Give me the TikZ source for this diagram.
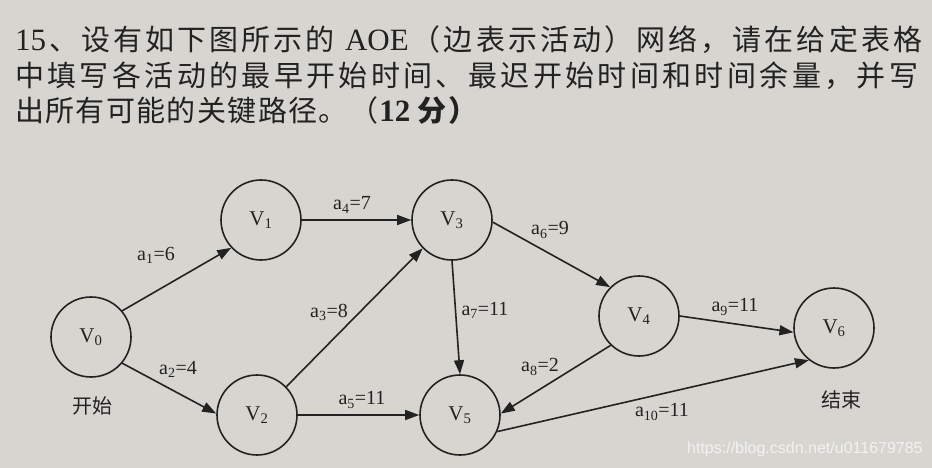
\documentclass[tikz,border=0pt]{standalone}
\usepackage{fontspec}
\setmainfont{Liberation Serif}
\newfontfamily\cjk{Noto Sans CJK SC}
\newfontfamily\wmfont{Liberation Sans}
\usetikzlibrary{arrows.meta}
\definecolor{paper}{HTML}{D7D5D0}
\definecolor{inkc}{HTML}{222222}
\definecolor{wmc}{HTML}{F2F2F2}
% spread a sequence of units evenly over a given width
\let\spreadend\relax
\def\spreadendmark{\spreadend}
\def\spreadfirst#1{#1\spreadnext}
\def\spreadnext#1{\def\spreadtmp{#1}\ifx\spreadtmp\spreadendmark\else\hfil#1\expandafter\spreadnext\fi}
\newcommand\spreadto[2]{\hbox to #1{\spreadfirst#2\spreadend}}
\newcommand\lat[1]{{\rmfamily\fontsize{31}{36}\selectfont #1}}
\begin{document}
\begin{tikzpicture}[x=1pt,y=-1pt,
  vtx/.style={circle,draw=inkc,line width=1.6pt,minimum size=80pt,inner sep=0pt,
    font=\fontsize{21}{25}\selectfont,text=inkc},
  arc/.style={draw=inkc,line width=1.6pt,-{Triangle[length=14pt,width=10pt]}},
  lbl/.style={font=\fontsize{20}{24}\selectfont,text=inkc,inner sep=0pt},
  cjklbl/.style={font=\cjk\fontsize{20}{24}\selectfont,text=inkc,inner sep=0pt},
  titleline/.style={anchor=base west,inner sep=0pt,text=inkc,font=\cjk\fontsize{29}{35}\selectfont}]
\fill[paper] (0,0) rectangle (932,468);
\useasboundingbox (0,0) rectangle (932,468);

% question text
\node[titleline] (t1) at (15,51) {\spreadto{907pt}{{\lat{15}} 、 设 有 如 下 图 所 示 的 {\lat{\hspace{7pt}AOE}} （ 边 表 示 活 动 ） 网 络 ， 请 在 给 定 表 格}};
\node[titleline] (t2) at (15,86.5) {\spreadto{903pt}{中 填 写 各 活 动 的 最 早 开 始 时 间 、 最 迟 开 始 时 间 和 时 间 余 量 ， 并 写}};
\node[titleline] (t3) at (15,121.5) {\spreadto{462pt}{出 所 有 可 能 的 关 键 路 径 。 （ {\lat{\bfseries 12\hspace{6pt}}} {\bfseries 分} ）}};

% vertices
\node[vtx] (V0) at (91,337) {V\textsubscript{0}};
\node[vtx] (V1) at (261,220) {V\textsubscript{1}};
\node[vtx] (V2) at (257,415) {V\textsubscript{2}};
\node[vtx] (V3) at (452,220) {V\textsubscript{3}};
\node[vtx] (V4) at (639,316) {V\textsubscript{4}};
\node[vtx] (V5) at (460,415) {V\textsubscript{5}};
\node[vtx] (V6) at (834,328) {V\textsubscript{6}};

% activities
\draw[arc] (V0.40) -- (V1.223);
\draw[arc] (V0.-40) -- (V2.178);
\draw[arc] (V2.44) -- (V3.224);
\draw[arc] (V1.0) -- (V3.180);
\draw[arc] (V2.0) -- (V5.180);
\draw[arc] (V3.-3) -- (V4.135);
\draw[arc] (V3.-90) -- (V5.90);
\draw[arc] (V4.226) -- (V5.2);
\draw[arc] (V4.0) -- (V6.186);
\draw[arc] (V5.-24) -- (V6.232);

% activity labels
\node[lbl] (l1) at (156,255) {a\textsubscript{1}=6};
\node[lbl] (l2) at (178,369) {a\textsubscript{2}=4};
\node[lbl] (l3) at (329,312) {a\textsubscript{3}=8};
\node[lbl] (l4) at (352,205) {a\textsubscript{4}=7};
\node[lbl] (l5) at (362,400) {a\textsubscript{5}=11};
\node[lbl] (l6) at (550,230) {a\textsubscript{6}=9};
\node[lbl] (l7) at (485,310) {a\textsubscript{7}=11};
\node[lbl] (l8) at (540,367) {a\textsubscript{8}=2};
\node[lbl] (l9) at (735,307) {a\textsubscript{9}=11};
\node[lbl] (l10) at (662,412) {a\textsubscript{10}=11};

\node[cjklbl] (start) at (92,406) {开始};
\node[cjklbl] (finish) at (841,400) {结束};

% watermark
\node[anchor=west,inner sep=0pt,text=wmc,font=\wmfont\fontsize{16}{19}\selectfont] (wm) at (687,449) {https://blog.csdn.net/u011679785};
\end{tikzpicture}
\end{document}
